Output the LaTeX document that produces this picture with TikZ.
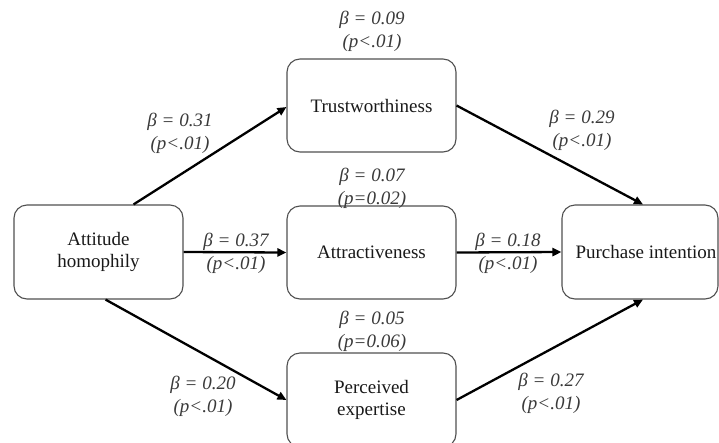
\documentclass[tikz,border=0pt]{standalone}
\usepackage{fontspec}
\setmainfont{Liberation Serif}
\usetikzlibrary{arrows.meta,calc}
\definecolor{boxline}{HTML}{505050}
\definecolor{labtext}{HTML}{3A3A3A}
\tikzset{
  boxnode/.style={draw=boxline, line width=1.1pt, rounded corners=13pt, fill=white,
    minimum width=169pt, minimum height=93pt, inner sep=0pt, align=center,
    text=black!90, font=\fontsize{19}{22}\selectfont},
  lab/.style={align=center, text=labtext, inner sep=0pt,
    font=\fontsize{19}{23}\selectfont\itshape},
  conn/.style={line width=2.3pt, black, -{Triangle[length=9pt,width=8pt]}}
}
\begin{document}
\begin{tikzpicture}[x=1pt,y=-1pt]
\clip (0,0) rectangle (719,442);
\fill[white] (0,0) rectangle (719,442);

\node[boxnode, minimum height=94pt] (ah) at (98.5,252) {Attitude\\homophily};
\node[boxnode] (tw) at (371.5,105.5) {Trustworthiness};
\node[boxnode] (at) at (371.5,252.5) {Attractiveness};
\node[boxnode, minimum height=94pt] (pe) at (371.5,400) {Perceived\\expertise};
\node[boxnode, minimum width=156pt, minimum height=94pt] (pi) at (640,252) {\hspace*{12pt}Purchase intention};

\draw[conn] ([xshift=35pt]ah.north) -- ([yshift=-1.5pt]tw.west);
\draw[conn] (ah.east) -- (at.west);
\draw[conn] ([xshift=7pt]ah.south) -- (pe.west);
\draw[conn] (tw.east) -- ([xshift=3pt]pi.north);
\draw[conn] (at.east) -- (pi.west);
\draw[conn] (pe.east) -- ([xshift=3pt]pi.south);

\node[lab] (l1) at (372,31.5) {β = 0.09\\(p<.01)};
\node[lab] (l2) at (180,133.5) {β = 0.31\\(p<.01)};
\node[lab] (l3) at (582,130.5) {β = 0.29\\(p<.01)};
\node[lab] (l4) at (372,188) {β = 0.07\\(p=0.02)};
\node[lab] (l5) at (236,253.5) {β = 0.37\\(p<.01)};
\node[lab] (l6) at (508,253.5) {β = 0.18\\(p<.01)};
\node[lab] (l7) at (372,331.5) {β = 0.05\\(p=0.06)};
\node[lab] (l8) at (203,396.5) {β = 0.20\\(p<.01)};
\node[lab] (l9) at (551,393.5) {β = 0.27\\(p<.01)};
\end{tikzpicture}
\end{document}
